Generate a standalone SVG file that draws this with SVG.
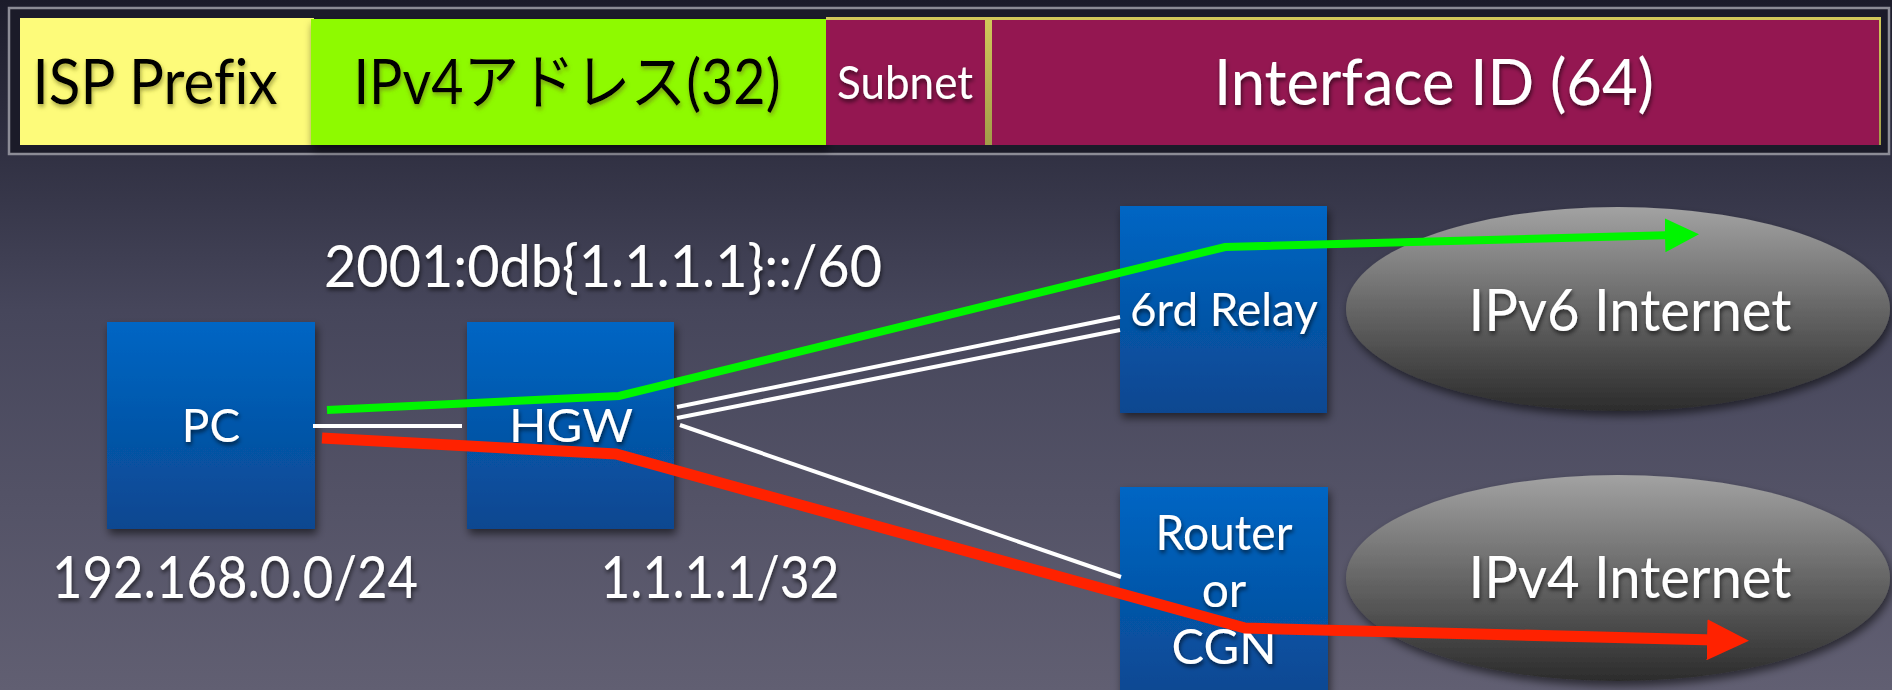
<svg xmlns="http://www.w3.org/2000/svg" width="1892" height="690" viewBox="0 0 1892 690">
<defs>
<linearGradient id="bg" x1="0" y1="0" x2="0" y2="1">
<stop offset="0" stop-color="#1c1c2b"/>
<stop offset="0.45" stop-color="#46465b"/>
<stop offset="1" stop-color="#615f72"/>
</linearGradient>
<linearGradient id="box" x1="0" y1="0" x2="0" y2="1">
<stop offset="0" stop-color="#0066c4"/>
<stop offset="1" stop-color="#0a4790"/>
</linearGradient>
<linearGradient id="cloud" x1="0" y1="0" x2="0" y2="1">
<stop offset="0" stop-color="#a2a2a2"/>
<stop offset="0.5" stop-color="#666"/>
<stop offset="1" stop-color="#2c2c2c"/>
</linearGradient>
<linearGradient id="gold" x1="0" y1="0" x2="0" y2="1">
<stop offset="0" stop-color="#d2c85a"/>
<stop offset="1" stop-color="#a29c48"/>
</linearGradient>
<filter id="sh" x="-10%" y="-10%" width="130%" height="140%">
<feDropShadow dx="2" dy="5" stdDeviation="4" flood-color="#000" flood-opacity="0.55"/>
</filter>
<filter id="tsh" x="-5%" y="-20%" width="115%" height="160%">
<feDropShadow dx="1" dy="3" stdDeviation="2" flood-color="#000" flood-opacity="0.6"/>
</filter>
<filter id="tshl" x="-5%" y="-20%" width="115%" height="160%">
<feDropShadow dx="1" dy="3" stdDeviation="2" flood-color="#6d6d20" flood-opacity="0.6"/>
</filter>
<marker id="ag" markerUnits="userSpaceOnUse" markerWidth="34" markerHeight="34" refX="10" refY="17" orient="auto">
<path d="M0,0 L34,17 L0,34 z" fill="#00f500"/>
</marker>
<marker id="ar" markerUnits="userSpaceOnUse" markerWidth="42" markerHeight="41" refX="8" refY="20.5" orient="auto">
<path d="M0,0 L42,20.5 L0,41 z" fill="#ff2200"/>
</marker>
</defs>
<style>
text{font-family:Lato,"Liberation Sans","Noto Sans CJK JP",sans-serif;text-anchor:middle;font-variant-ligatures:none}
.w{fill:#fff;filter:url(#tsh)}
.k{fill:#000;filter:url(#tshl)}
.node{fill:url(#box);filter:url(#sh)}
.cloud{fill:url(#cloud);filter:url(#sh)}
.wl{stroke:#fff;stroke-width:4;fill:none}
</style>
<rect x="0" y="0" width="1892" height="690" fill="url(#bg)"/>

<g id="header">
<rect x="9" y="8" width="1880" height="146" fill="#1b1b29" stroke="#8c8c96" stroke-width="2.5"/>
<g id="isp-prefix">
<rect x="20" y="18" width="294" height="127" fill="#fdfb7a"/>
<text class="k" x="155" y="104" font-size="62" textLength="245" lengthAdjust="spacingAndGlyphs">ISP Prefix</text>
</g>
<g id="ipv4-address">
<rect x="311" y="19" width="515" height="126" fill="#8efa00" filter="url(#sh)"/>
<text class="k" x="567" y="104" font-size="61" textLength="427" lengthAdjust="spacingAndGlyphs">IPv4アドレス(32)</text>
</g>
<rect x="826" y="17" width="1055" height="128" fill="url(#gold)"/>
<g id="subnet">
<rect x="826" y="20" width="159" height="125" fill="#941751"/>
<text class="w" x="905" y="99" font-size="46" textLength="136" lengthAdjust="spacingAndGlyphs">Subnet</text>
</g>
<g id="interface-id">
<rect x="992" y="20" width="887" height="125" fill="#941751"/>
<text class="w" x="1434" y="105" font-size="63" textLength="440" lengthAdjust="spacingAndGlyphs">Interface ID (64)</text>
</g>
</g>

<g id="label-prefix">
<text class="w" x="603" y="287" font-size="59" textLength="558" lengthAdjust="spacingAndGlyphs">2001:0db{1.1.1.1}::/60</text>
</g>

<g id="pc">
<rect class="node" x="107" y="322" width="208" height="207"/>
<text class="w" x="211" y="442" font-size="46">PC</text>
<text class="w" x="235" y="598" font-size="59" textLength="366" lengthAdjust="spacingAndGlyphs">192.168.0.0/24</text>
</g>

<g id="hgw">
<rect class="node" x="467" y="322" width="207" height="207"/>
<text class="w" x="571" y="442" font-size="46" textLength="124" lengthAdjust="spacingAndGlyphs">HGW</text>
<text class="w" x="720" y="598" font-size="59" textLength="239" lengthAdjust="spacingAndGlyphs">1.1.1.1/32</text>
</g>

<g id="relay">
<rect class="node" x="1120" y="206" width="207" height="207"/>
<text class="w" x="1224" y="326" font-size="46" textLength="188" lengthAdjust="spacingAndGlyphs">6rd Relay</text>
</g>

<g id="router">
<rect class="node" x="1120" y="487" width="208" height="215"/>
<text class="w" x="1224" y="550" font-size="48" textLength="137" lengthAdjust="spacingAndGlyphs">Router</text>
<text class="w" x="1224" y="607" font-size="48">or</text>
<text class="w" x="1224" y="664" font-size="48" textLength="105" lengthAdjust="spacingAndGlyphs">CGN</text>
</g>

<g id="ipv6-internet">
<ellipse class="cloud" cx="1618" cy="309" rx="272" ry="102"/>
<text class="w" x="1630" y="331" font-size="59" textLength="323" lengthAdjust="spacingAndGlyphs">IPv6 Internet</text>
</g>

<g id="ipv4-internet">
<ellipse class="cloud" cx="1618" cy="578" rx="272" ry="103"/>
<text class="w" x="1630" y="598" font-size="59" textLength="323" lengthAdjust="spacingAndGlyphs">IPv4 Internet</text>
</g>

<g id="connectors">
<line class="wl" x1="313" y1="426" x2="462" y2="426"/>
<line class="wl" x1="677" y1="407" x2="1120" y2="317"/>
<line class="wl" x1="677" y1="418" x2="1120" y2="330"/>
<line class="wl" x1="680" y1="425" x2="1121" y2="577"/>
<polyline points="327,410 619,396 1225,247 1675,235" fill="none" stroke="#00f500" stroke-width="8" stroke-linejoin="miter" marker-end="url(#ag)"/>
<polyline points="322,438 616,454 1245,628 1715,640" fill="none" stroke="#ff2200" stroke-width="11" stroke-linejoin="miter" marker-end="url(#ar)"/>
</g>
</svg>
